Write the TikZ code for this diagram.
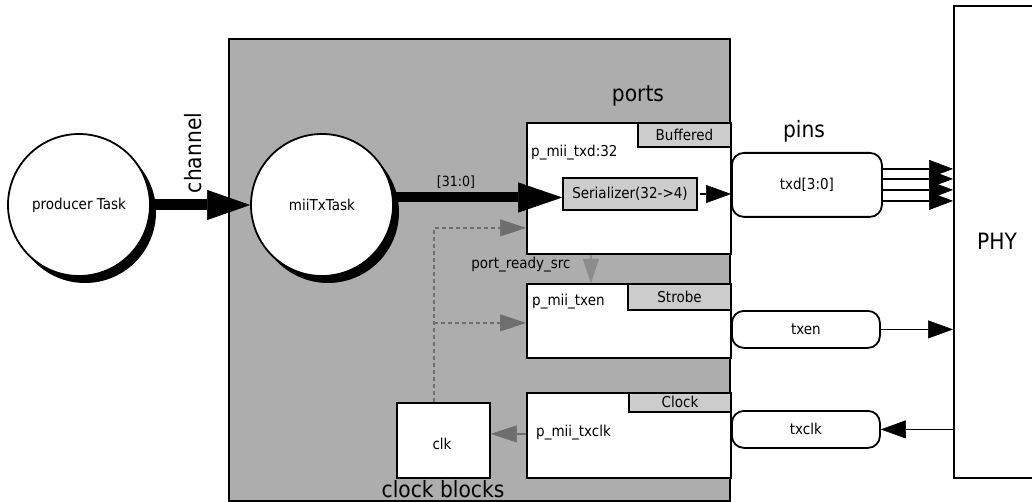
\documentclass[tikz,border=0pt]{standalone}
\usepackage{fontspec}
\setmainfont{DejaVu Sans}[FakeStretch=0.9]
\usetikzlibrary{arrows.meta,calc,shadows}
\definecolor{boxgray}{HTML}{ADADAD}
\definecolor{tabgray}{HTML}{CCCCCC}
\definecolor{dgray}{HTML}{6E6E6E}
\definecolor{mgray}{HTML}{8C8C8C}
\begin{document}
\begin{tikzpicture}[x=1pt,y=-1pt,
  font=\fontsize{15}{18}\selectfont,
  big/.style={font=\fontsize{22.5}{26}\selectfont, inner sep=0pt},
  lbl/.style={inner sep=0pt},
  rbox/.style={draw=black, line width=1.8pt, fill=white, inner sep=0pt, anchor=north west},
  tabbox/.style={draw=black, line width=1.6pt, fill=tabgray, inner sep=0pt, anchor=north east},
  task/.style={circle, draw=black, line width=1.8pt, fill=white, minimum size=142pt, inner sep=0pt,
    drop shadow={shadow xshift=6pt, shadow yshift=-7pt, fill=black, opacity=1}},
  pin/.style={draw=black, line width=1.8pt, fill=white, rounded corners=12pt, inner sep=0pt, anchor=north west},
  fat/.style={line width=10pt, -{Triangle[length=44pt,width=30pt,line width=0.5pt]}},
  thin/.style={line width=1.8pt, -{Triangle[length=25pt,width=18pt,line width=0.5pt]}},
  garrow/.style={dgray, line width=2pt, -{Triangle[length=26pt,width=17pt,line width=0.5pt]}},
  dashline/.style={dgray, line width=1.6pt, dash pattern=on 4pt off 3pt}
]
\useasboundingbox (0,0) rectangle (1032,502);

% main gray area
\node[rbox, fill=boxgray, minimum width=501pt, minimum height=462pt] (cpu) at (228,38) {};
% PHY
\node[rbox, minimum width=120pt, minimum height=472pt] (phy) at (953,5) {};
\node[big] (phyl) at (997,241) {PHY};

% tasks
\node[task] (prod) at (79,205) {producer Task};
\node[task] (mii) at (322,205) {miiTxTask};

% ports
\node[rbox, minimum width=204pt, minimum height=131pt] (ptxd) at (526,122) {};
\node[tabbox, minimum width=93pt, minimum height=24pt] (tbuf) at (ptxd.north east) {Buffered};
\node[lbl, anchor=west] (ltxd) at (531,153) {p\_mii\_txd:32};
\node[draw=black, line width=1.6pt, fill=tabgray, inner sep=0pt, minimum width=134pt, minimum height=32pt] (ser) at (630,194) {Serializer(32->4)};

\node[rbox, minimum width=204pt, minimum height=74pt] (ptxen) at (526,283) {};
\node[tabbox, minimum width=103pt, minimum height=26pt] (tstr) at (ptxen.north east) {Strobe};
\node[lbl, anchor=west] (ltxen) at (532,302) {p\_mii\_txen};

\node[rbox, minimum width=204pt, minimum height=85pt] (ptclk) at (526,392) {};
\node[tabbox, minimum width=102pt, minimum height=19pt] (tclk) at (ptclk.north east) {Clock};
\node[lbl, anchor=west] (ltclk) at (536,433) {p\_mii\_txclk};

% clock block
\node[rbox, minimum width=93pt, minimum height=75pt] (clk) at (396,402) {};
\node[lbl] (clkl) at (442,444) {clk};

% pins
\node[pin, minimum width=150pt, minimum height=64pt] (txd) at (731,152) {};
\node[lbl] at (txd.center) {txd[3:0]};
\node[pin, minimum width=148pt, minimum height=37pt] (txen) at (731,310) {};
\node[lbl] at (txen.center) {txen};
\node[pin, minimum width=148pt, minimum height=37pt] (txclk) at (731,410) {};
\node[lbl] at (txclk.center) {txclk};

% titles
\node[big] (tports) at (638,96) {ports};
\node[big] (tpins) at (804,131) {pins};
\node[big, rotate=90] (tchan) at (193,153) {channel};
\node[big] (tclkb) at (443,489) {clock blocks};

% connectors
\draw[line width=11pt, -{Triangle[length=43pt,width=30pt,line width=0.5pt]}] (prod) -- (mii);
\draw[fat] (mii.6.6) -- node[pos=0.37, anchor=south, yshift=4pt, lbl, font=\fontsize{14}{16}\selectfont] (l31) {[31:0]} (mii.6.6 -| ser.west);
\draw[thin, shorten <=2pt] (ser.east) -- (ser.east -| txd.west);

\foreach \i/\dy in {1/16,2/6,3/-5,4/-16}{
  \coordinate (s\i) at ([yshift=\dy pt]txd.east);
  \draw[line width=1.8pt, -{Triangle[length=24pt,width=18pt,line width=0.5pt]}] (s\i) -- (s\i -| phy.west);
}
\draw[thin] (txen.east) -- (txen.east -| phy.west);
\draw[thin] (txclk.east -| phy.west) -- (txclk.east);

% port_ready_src
\coordinate (pr1) at ([xshift=-38pt]ptxd.south);
\coordinate (pr2) at ([xshift=-38pt]ptxen.north);
\draw[mgray, line width=2pt, -{Triangle[length=24pt,width=16pt,line width=0.5pt]}] (pr1) -- (pr2);
\node[lbl, font=\fontsize{15}{17}\selectfont] (lpr) at (521,265) {port\_ready\_src};

% dashed clock lines
\coordinate (dv) at ([xshift=-9.5pt]clk.north);
\coordinate (d1) at ([yshift=-39.5pt]ptxd.west);
\coordinate (d2) at ([yshift=-2pt]ptxen.west);
\draw[dashline] (dv) |- ([xshift=-24pt]d1);
\draw[garrow, shorten <=-1pt] ([xshift=-25pt]d1) -- (d1);
\draw[dashline] (dv |- d2) -- ([xshift=-24pt]d2);
\draw[garrow, shorten <=-1pt] ([xshift=-25pt]d2) -- (d2);

% clk arrow
\coordinate (ca) at ([yshift=1.5pt]ptclk.west);
\draw[garrow] (ca) -- (ca -| clk.east);
\end{tikzpicture}
\end{document}
